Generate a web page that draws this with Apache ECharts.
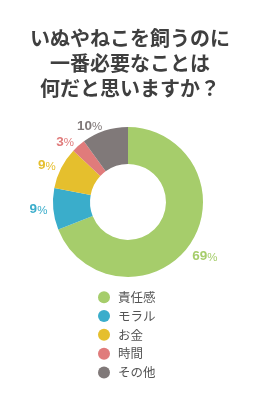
<!DOCTYPE html>
<html><head><meta charset="utf-8">
<script src="https://cdn.jsdelivr.net/npm/echarts@6/dist/echarts.min.js"></script>
<style>html,body{margin:0;padding:0;background:#fff}#c{width:260px;height:396px}</style>
</head><body><div id="c"></div>
<script>
var titleLines = ['いぬやねこを飼うのに', '一番必要なことは', '何だと思いますか？'];
var categories = ['責任感', 'モラル', 'お金', '時間', 'その他'];
var values = [69, 9, 9, 3, 10];
var colors = ['#a6cd6b', '#3aadcb', '#e5bf2d', '#e07b7b', '#807979'];

var chart = echarts.init(document.getElementById('c'), null, {renderer: 'canvas'});
chart.setOption({
  animation: false,
  color: colors,
  title: {
    text: titleLines.join('\n'),
    left: 'center', top: 21,
    textStyle: {fontFamily: 'Noto Sans CJK JP', fontWeight: 'bold', fontSize: 20, lineHeight: 25, color: '#3f3f3f'}
  },
  legend: {
    orient: 'vertical', left: 93, top: 286,
    icon: 'circle', itemWidth: 12, itemHeight: 12, itemGap: 6.3,
    data: categories,
    textStyle: {fontFamily: 'Noto Sans CJK JP', fontSize: 12.5, lineHeight: 12, color: '#555', padding: [0,0,0,3]}
  },
  series: [{
    type: 'pie',
    center: [128, 202],
    radius: [38, 75],
    startAngle: 90,
    clockwise: true,
    data: categories.map(function(c, i){
      var d = {name: c, value: values[i]};
      if (i === 0) d.labelLine = {length: 22, length2: -17};
      return d;
    }),
    label: {
      position: 'outside',
      distanceToLabelLine: 1,
      formatter: function(p){ return '{n|' + p.value + '}{p|%}'; },
      rich: {
        n: {fontFamily: 'Liberation Sans', fontWeight: 'bold', fontSize: 13.5, color: 'inherit'},
        p: {fontFamily: 'Liberation Sans', fontWeight: 'normal', fontSize: 11.5, color: 'inherit', padding: [2,0,0,0]}
      },
      color: 'inherit'
    },
    labelLine: {show: false, length: 5, length2: 0},
    emphasis: {disabled: true}
  }]
});
</script></body></html>
